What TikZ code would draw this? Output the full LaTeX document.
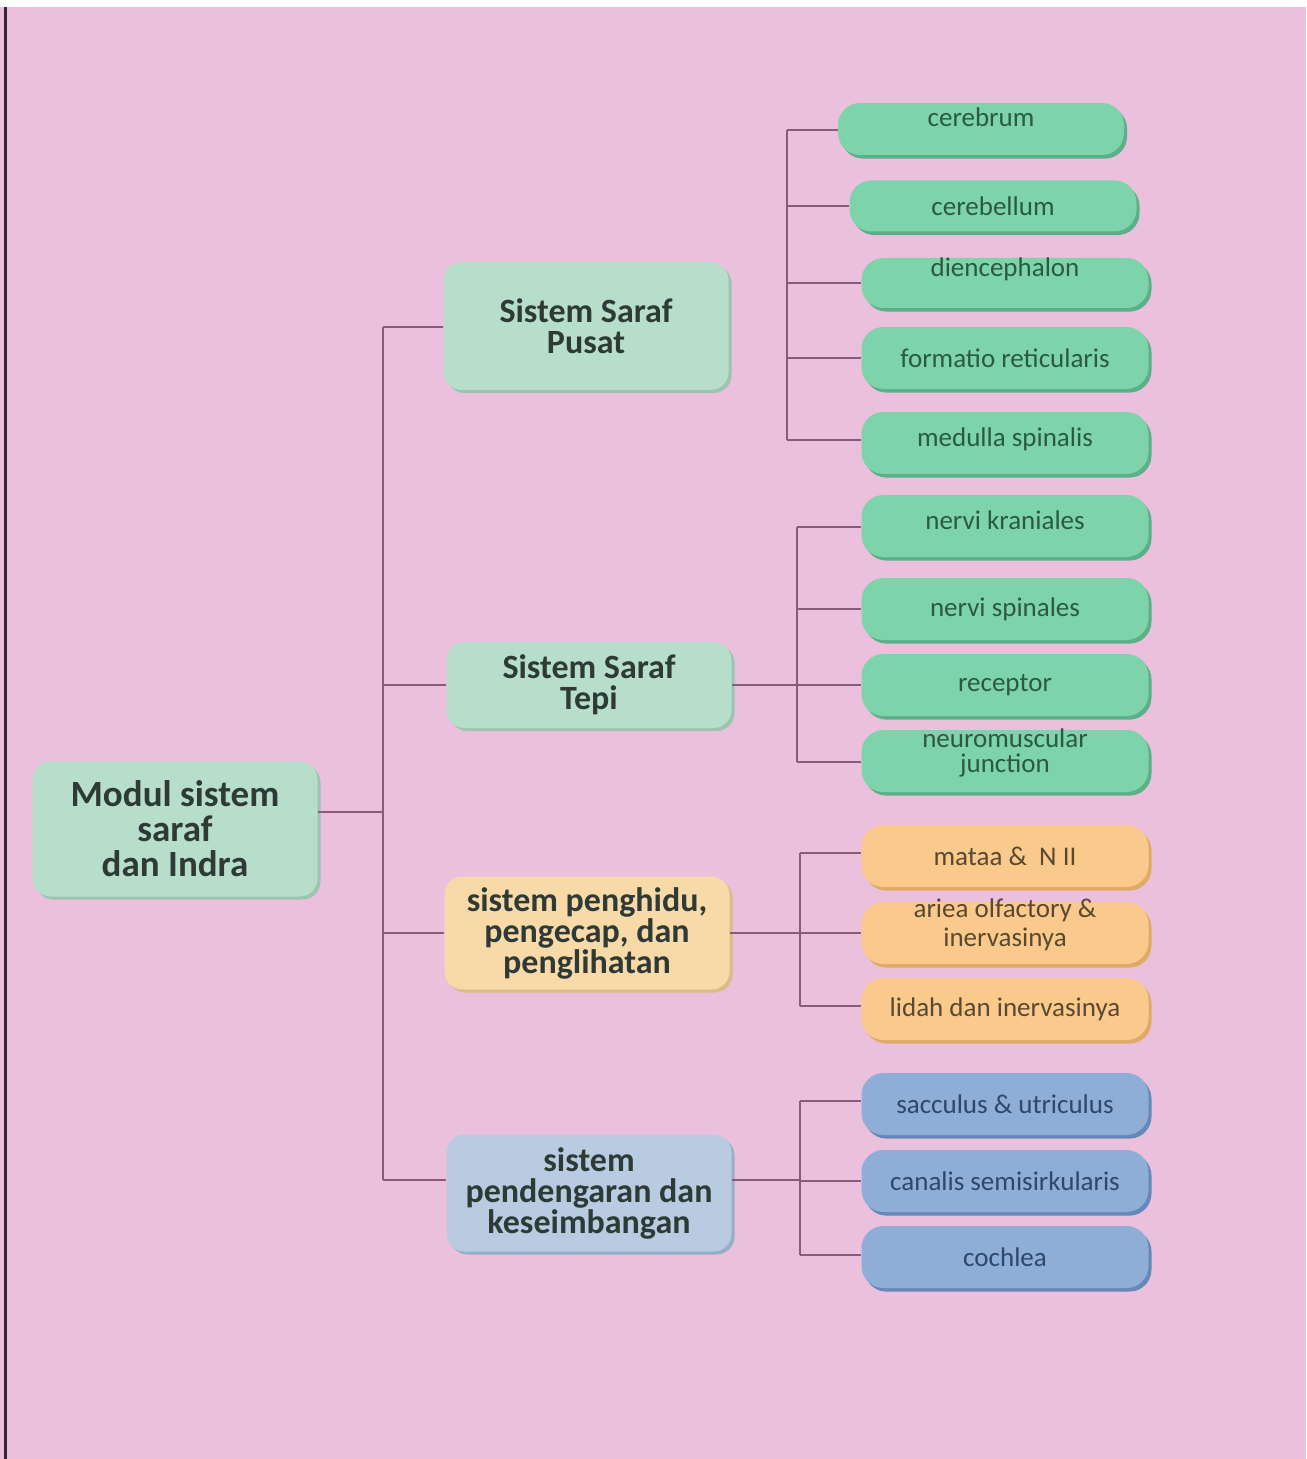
\documentclass[tikz,border=0pt]{standalone}
\usepackage{fontspec}
\setmainfont{Carlito}
\definecolor{bgpink}{HTML}{EBC0DC}
\definecolor{conncol}{HTML}{8A5A7A}
\definecolor{mint}{HTML}{B7DECB}
\definecolor{mintsh}{HTML}{9CC4B0}
\definecolor{midorange}{HTML}{F8D9A8}
\definecolor{midorangesh}{HTML}{DDBB88}
\definecolor{midblue}{HTML}{B8CBE0}
\definecolor{midbluesh}{HTML}{98ADC6}
\definecolor{leafgreen}{HTML}{7DD3AA}
\definecolor{leafgreensh}{HTML}{5CB088}
\definecolor{leaforange}{HTML}{F9CA8C}
\definecolor{leaforangesh}{HTML}{E0AA66}
\definecolor{leafblue}{HTML}{8EAED8}
\definecolor{leafbluesh}{HTML}{6688B8}
\definecolor{txtdark}{HTML}{2E3A35}
\definecolor{txtgreen}{HTML}{2B5A44}
\definecolor{txtbrown}{HTML}{5A4830}
\definecolor{txtblue}{HTML}{2E476A}
\definecolor{edgedark}{HTML}{3A2434}
\begin{document}
\begin{tikzpicture}[x=0.5pt,y=-0.5pt,
  conn/.style={draw=conncol,line width=1pt},
  boxbase/.style={rounded corners=9pt,align=center,inner sep=0pt},
  rootbox/.style={boxbase,fill=mint,text=txtdark,
    preaction={fill=mintsh,transform canvas={xshift=1.5pt,yshift=-1.5pt}},
    font=\fontsize{18.5}{17.5}\selectfont\bfseries},
  midbox/.style={boxbase,text=txtdark,font=\fontsize{17}{15.5}\selectfont\bfseries,
    minimum width=142.5pt},
  midgreen/.style={midbox,fill=mint,preaction={fill=mintsh,transform canvas={xshift=1.5pt,yshift=-1.5pt}}},
  midor/.style={midbox,fill=midorange,preaction={fill=midorangesh,transform canvas={xshift=1.5pt,yshift=-1.5pt}}},
  midbl/.style={midbox,fill=midblue,preaction={fill=midbluesh,transform canvas={xshift=1.5pt,yshift=-1.5pt}}},
  leaf/.style={boxbase,rounded corners=11pt,minimum width=143.5pt,minimum height=31pt,
    font=\fontsize{13.5}{12}\selectfont},
  lgreen/.style={leaf,fill=leafgreen,text=txtgreen,preaction={fill=leafgreensh,transform canvas={xshift=1.5pt,yshift=-1.8pt}}},
  lorange/.style={leaf,fill=leaforange,text=txtbrown,preaction={fill=leaforangesh,transform canvas={xshift=1.5pt,yshift=-1.8pt}}},
  lblue/.style={leaf,fill=leafblue,text=txtblue,preaction={fill=leafbluesh,transform canvas={xshift=1.5pt,yshift=-1.8pt}}}
]
% background
\fill[bgpink] (0,0) rectangle (1306,1459);
\fill[white] (0,0) rectangle (1306,7);
\fill[edgedark] (4,7) rectangle (7,1459);
\useasboundingbox (0,0) rectangle (1306,1459);

% root
\node[rootbox,minimum width=142.5pt,minimum height=67.5pt] (root) at (175,829) {Modul sistem\\saraf\\dan Indra};

% mid nodes
\node[midgreen,minimum height=64pt] (pusat) at (586,326) {Sistem Saraf\\Pusat};
\node[midgreen,minimum height=43pt] (tepi) at (589,685) {Sistem Saraf\\Tepi};
\node[midor,minimum height=56.5pt] (indra) at (587,933) {sistem penghidu,\\pengecap, dan\\penglihatan};
\node[midbl,minimum height=58.5pt] (dengar) at (589,1193) {sistem\\pendengaran dan\\keseimbangan};

% leaves: pusat
\node[lgreen,minimum width=143pt,minimum height=26pt] (l1) at (981,129) {\raisebox{6pt}[\height][\depth]{cerebrum}};
\node[lgreen,minimum height=25.5pt] (l2) at (993,206) {cerebellum};
\node[lgreen,minimum height=25pt] (l3) at (1005,283) {\raisebox{7pt}[\height][\depth]{diencephalon}};
\node[lgreen] (l4) at (1005,358) {formatio reticularis};
\node[lgreen] (l5) at (1005,443) {\raisebox{2pt}[\height][\depth]{medulla spinalis}};
% leaves: tepi
\node[lgreen] (l6) at (1005,526) {\raisebox{3pt}[\height][\depth]{nervi kraniales}};
\node[lgreen] (l7) at (1005,609) {nervi spinales};
\node[lgreen] (l8) at (1005,685) {receptor};
\node[lgreen] (l9) at (1005,761) {\raisebox{4pt}[\height][\depth]{\shortstack{neuromuscular\\junction}}};
% leaves: indra
\node[lorange] (l10) at (1005,856) {mataa \&\ \ N II};
\node[lorange] (l11) at (1005,933) {\raisebox{4pt}[\height][\depth]{\shortstack{ariea olfactory \&\\inervasinya}}};
\node[lorange] (l12) at (1005,1009) {lidah dan inervasinya};
% leaves: dengar
\node[lblue] (l13) at (1005,1104) {sacculus \& utriculus};
\node[lblue] (l14) at (1005,1181) {canalis semisirkularis};
\node[lblue] (l15) at (1005,1257) {cochlea};

% bus coordinates
\coordinate (tr0) at (383,812);
\coordinate (trtop) at (383,327);
\coordinate (trbot) at (383,1180);
\coordinate (bA1) at (787,130);
\coordinate (bA2) at (787,440);
\coordinate (bB1) at (797,527);
\coordinate (bB2) at (797,762);
\coordinate (bC1) at (800,853);
\coordinate (bC2) at (800,1006);
\coordinate (bD1) at (800,1101);
\coordinate (bD2) at (800,1255);

% trunk
\draw[conn] (trtop) -- (trbot);
\draw[conn] (root.east |- tr0) -- (tr0);
\draw[conn] (trtop) -- (pusat.west |- trtop);
\draw[conn] (trtop |- tepi.west) -- (tepi.west);
\draw[conn] (trtop |- indra.west) -- (indra.west);
\draw[conn] (trbot) -- (dengar.west |- trbot);

% pusat bus
\draw[conn] (bA1) -- (bA2);
\draw[conn] (bA1) -- (l1.west |- bA1);
\draw[conn] (bA1 |- l2.west) -- (l2.west);
\draw[conn] (bA1 |- l3.west) -- (l3.west);
\draw[conn] (bA1 |- l4.west) -- (l4.west);
\draw[conn] (bA2) -- (l5.west |- bA2);

% tepi bus
\draw[conn] (bB1) -- (bB2);
\draw[conn] (tepi.east) -- (bB1 |- tepi.east);
\draw[conn] (bB1) -- (l6.west |- bB1);
\draw[conn] (bB1 |- l7.west) -- (l7.west);
\draw[conn] (bB1 |- l8.west) -- (l8.west);
\draw[conn] (bB2) -- (l9.west |- bB2);

% indra bus
\draw[conn] (bC1) -- (bC2);
\draw[conn] (indra.east) -- (bC1 |- indra.east);
\draw[conn] (bC1) -- (l10.west |- bC1);
\draw[conn] (bC1 |- l11.west) -- (l11.west);
\draw[conn] (bC2) -- (l12.west |- bC2);

% dengar bus
\draw[conn] (bD1) -- (bD2);
\draw[conn] (dengar.east |- 0,1180) -- (bD1 |- 0,1180);
\draw[conn] (bD1) -- (l13.west |- bD1);
\draw[conn] (bD1 |- l14.west) -- (l14.west);
\draw[conn] (bD2) -- (l15.west |- bD2);
\end{tikzpicture}
\end{document}
